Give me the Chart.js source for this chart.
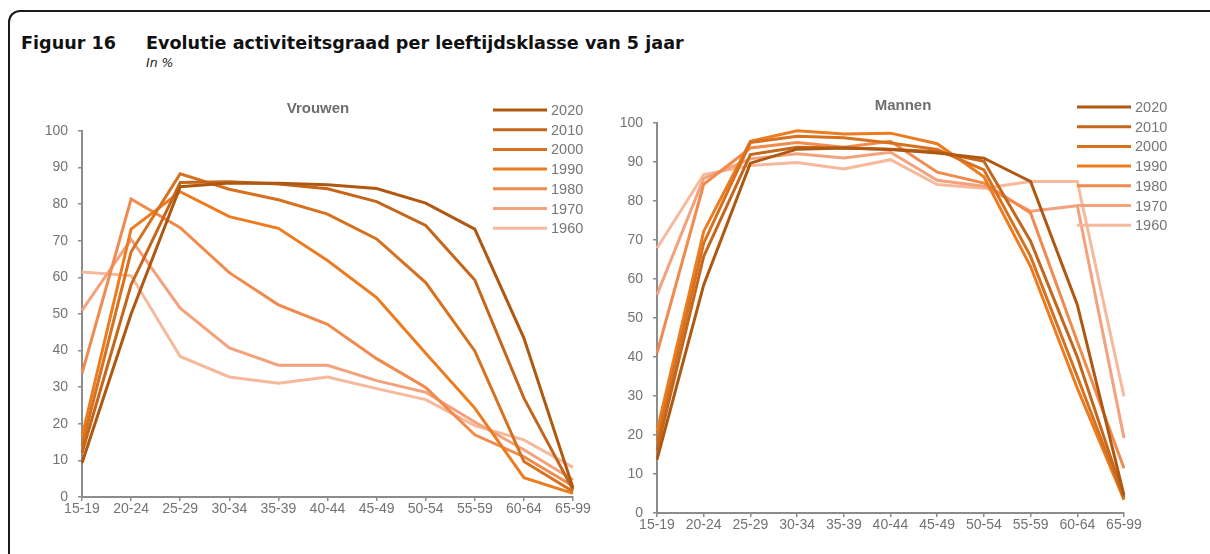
<!DOCTYPE html>
<html>
<head>
<meta charset="utf-8">
<script src="https://cdn.jsdelivr.net/npm/chart.js@4/dist/chart.umd.min.js"></script>
<style>
  html, body { margin: 0; padding: 0; background: #fff; }
  body { width: 1210px; height: 554px; position: relative; overflow: hidden; }
  .frame { position: absolute; left: 8px; top: 10px; width: 1300px; height: 700px;
           border-left: 2px solid #1a1a1a; border-top: 2px solid #1a1a1a; border-top-left-radius: 12px; }
  .fig-num { position: absolute; left: 21px; top: 33px; font: bold 17.6px "DejaVu Sans"; color: #111; }
  .fig-title { position: absolute; left: 146px; top: 33px; font: bold 17.6px "DejaVu Sans"; color: #111; }
  .fig-sub { position: absolute; left: 146px; top: 55px; font: italic 12.5px "DejaVu Sans"; color: #222; }
  canvas { position: absolute; }
</style>
</head>
<body>
<div class="frame"></div>
<div class="fig-num">Figuur 16</div>
<div class="fig-title">Evolutie activiteitsgraad per leeftijdsklasse van 5 jaar</div>
<div class="fig-sub">In %</div>
<canvas id="vrouwen" width="600" height="450" style="left:20px; top:80px;"></canvas>
<canvas id="mannen" width="600" height="460" style="left:600px; top:80px;"></canvas>
<script>
(function() {
  'use strict';

  const categories = ['15-19', '20-24', '25-29', '30-34', '35-39', '40-44', '45-49', '50-54', '55-59', '60-64', '65-99'];
  const years = ['2020', '2010', '2000', '1990', '1980', '1970', '1960'];
  const yearColors = ['#AE5812', '#C4661B', '#D6721F', '#EC7C1F', '#F08A4D', '#F3A27D', '#F6B99C'];

  // Vrouwen
  const vrouwen2020 = [9.3, 50.0, 84.8, 85.8, 85.7, 85.3, 84.3, 80.3, 73.2, 43.4, 2.5];
  const vrouwen2010 = [12.0, 58.0, 85.9, 86.1, 85.5, 84.2, 80.7, 74.2, 59.3, 27.0, 2.0];
  const vrouwen2000 = [14.0, 67.0, 88.3, 84.1, 81.2, 77.3, 70.5, 58.6, 39.9, 9.7, 1.5];
  const vrouwen1990 = [16.5, 73.2, 83.4, 76.6, 73.4, 64.6, 54.5, 39.3, 24.3, 5.3, 1.0];
  const vrouwen1980 = [33.8, 81.4, 73.6, 61.3, 52.5, 47.2, 37.8, 29.9, 17.0, 11.0, 3.0];
  const vrouwen1970 = [51.0, 70.4, 51.6, 40.7, 36.0, 36.0, 31.8, 28.6, 20.5, 12.9, 4.7];
  const vrouwen1960 = [61.5, 60.5, 38.4, 32.8, 31.1, 32.8, 29.6, 26.6, 19.5, 15.6, 8.1];

  // Mannen
  const mannen2020 = [13.7, 58.5, 89.7, 93.3, 93.6, 93.2, 92.3, 91.0, 85.0, 53.4, 4.5];
  const mannen2010 = [16.0, 65.8, 91.9, 93.8, 93.6, 93.3, 92.6, 90.2, 69.7, 40.0, 4.0];
  const mannen2000 = [18.5, 69.2, 95.0, 96.6, 96.2, 94.9, 93.2, 88.0, 65.8, 35.0, 3.6];
  const mannen1990 = [21.0, 72.2, 95.3, 98.0, 97.2, 97.4, 94.7, 86.2, 63.2, 32.0, 3.4];
  const mannen1980 = [41.0, 84.3, 93.6, 95.0, 93.8, 95.3, 87.4, 84.6, 76.9, 44.0, 11.5];
  const mannen1970 = [56.0, 85.8, 90.8, 92.1, 91.0, 92.5, 85.3, 83.8, 77.4, 78.8, 19.2];
  const mannen1960 = [67.9, 86.8, 89.1, 89.9, 88.2, 90.6, 84.2, 83.3, 85.0, 85.0, 29.9];

  const yTicks = [0, 10, 20, 30, 40, 50, 60, 70, 80, 90, 100];

  const axisColor = '#8C8C8C';
  const tickColor = '#737373';
  const tickFont = { family: '"Liberation Sans", Arial, sans-serif', size: 14 };

  function buildDatasets(series) {
    return series.map((values, i) => ({
      label: years[i],
      data: values,
      borderColor: yearColors[i],
      backgroundColor: yearColors[i],
      borderWidth: 3,
      pointRadius: 0,
      tension: 0,
      fill: false
    }));
  }

  // Chart title + legend drawn at fixed spots, overlapping the plot like the original
  const overlayPlugin = {
    id: 'overlay',
    afterDraw(chart, args, opts) {
      const ctx = chart.ctx;
      ctx.save();
      ctx.font = 'bold 15px "Liberation Sans", Arial, sans-serif';
      ctx.fillStyle = '#6E6E6E';
      ctx.textAlign = 'center';
      ctx.textBaseline = 'middle';
      ctx.fillText(opts.title, opts.titleX, opts.titleY);

      ctx.font = '14.5px "Liberation Sans", Arial, sans-serif';
      ctx.textAlign = 'left';
      chart.data.datasets.forEach((ds, i) => {
        const y = opts.legendY + i * opts.legendStep;
        ctx.strokeStyle = ds.borderColor;
        ctx.lineWidth = 3;
        ctx.beginPath();
        ctx.moveTo(opts.legendX, y);
        ctx.lineTo(opts.legendX + 54, y);
        ctx.stroke();
        ctx.fillStyle = '#767676';
        ctx.fillText(ds.label, opts.legendX + 58, y + 1);
      });
      ctx.restore();
    }
  };

  function makeChart(id, series, o) {
    const ctx = document.getElementById(id).getContext('2d');
    return new Chart(ctx, {
      type: 'line',
      data: { labels: categories, datasets: buildDatasets(series) },
      plugins: [overlayPlugin],
      options: {
        responsive: false,
        maintainAspectRatio: false,
        animation: false,
        devicePixelRatio: 1,
        layout: { padding: { top: o.padTop, right: o.padRight, bottom: 0, left: 0 } },
        plugins: {
          legend: { display: false },
          title: { display: false },
          tooltip: { enabled: false },
          overlay: o.overlay
        },
        scales: {
          x: {
            offset: false,
            afterFit(scale) { scale.height = o.xHeight; },
            grid: { drawOnChartArea: false, drawTicks: true, tickLength: 4, color: axisColor, lineWidth: 1.5 },
            border: { display: true, color: axisColor, width: 2 },
            ticks: { color: tickColor, font: tickFont, padding: 0, maxRotation: 0, autoSkip: false }
          },
          y: {
            min: 0,
            max: 100,
            afterFit(scale) { scale.width = o.yWidth; },
            afterBuildTicks(scale) { scale.ticks = yTicks.map(v => ({ value: v })); },
            grid: { drawOnChartArea: false, drawTicks: true, tickLength: 4, color: axisColor, lineWidth: 1.5 },
            border: { display: true, color: axisColor, width: 2 },
            ticks: { color: tickColor, font: tickFont, padding: 10 }
          }
        }
      }
    });
  }

  makeChart('vrouwen',
    [vrouwen2020, vrouwen2010, vrouwen2000, vrouwen1990, vrouwen1980, vrouwen1970, vrouwen1960],
    { padTop: 51, padRight: 47, xHeight: 33, yWidth: 62,
      overlay: { title: 'Vrouwen', titleX: 298, titleY: 29, legendX: 473, legendY: 30, legendStep: 19.7 } });

  makeChart('mannen',
    [mannen2020, mannen2010, mannen2000, mannen1990, mannen1980, mannen1970, mannen1960],
    { padTop: 43, padRight: 76, xHeight: 27, yWidth: 57,
      overlay: { title: 'Mannen', titleX: 303, titleY: 26, legendX: 477, legendY: 27, legendStep: 19.7 } });
})();
</script>
</body>
</html>
